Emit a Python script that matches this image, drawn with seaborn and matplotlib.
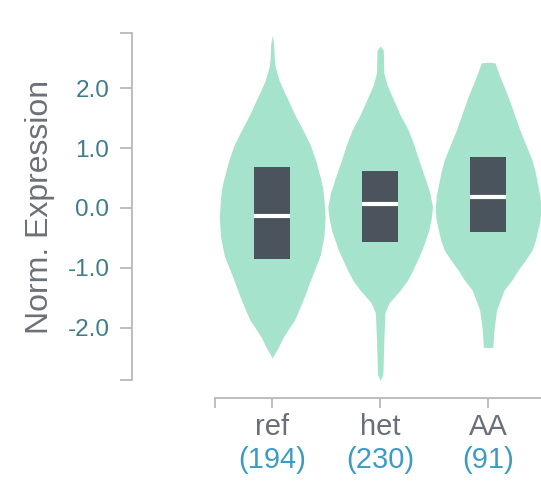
import numpy as np
import matplotlib
matplotlib.use("Agg")
import matplotlib.pyplot as plt
import seaborn as sns

# genotype groups and sample counts
genotypes = ["ref", "het", "AA"]
counts = [194, 230, 91]

# violin outlines: expression level -> relative density
ref_levels = [2.88, 2.72, 2.47, 2.35, 2.13, 1.97, 1.80, 1.55, 1.30, 1.05, 0.80,
              0.47, 0.30, 0.13, -0.15, -0.45, -0.60, -0.78, -0.90, -1.03, -1.28,
              -1.45, -1.58, -1.75, -1.87, -2.00, -2.15, -2.33, -2.50]
ref_density = [0.0, 0.03, 0.04, 0.06, 0.13, 0.21, 0.30, 0.43, 0.58, 0.72, 0.82,
               0.92, 0.96, 0.98, 1.00, 0.98, 0.95, 0.91, 0.86, 0.80, 0.69,
               0.62, 0.56, 0.48, 0.42, 0.32, 0.21, 0.11, 0.0]

het_levels = [2.70, 2.63, 2.25, 2.05, 1.85, 1.55, 1.30, 1.05, 0.80, 0.47, 0.25,
              0.02, -0.15, -0.37, -0.70, -1.03, -1.20, -1.37, -1.58, -1.75,
              -2.20, -2.78, -2.87]
het_density = [0.0, 0.06, 0.07, 0.13, 0.23, 0.38, 0.53, 0.64, 0.73, 0.86, 0.94,
               0.99, 0.97, 0.92, 0.79, 0.62, 0.52, 0.38, 0.17, 0.09,
               0.07, 0.05, 0.0]

aa_levels = [2.43, 2.42, 2.22, 1.85, 1.30, 0.80, 0.60, 0.38, 0.20, -0.03, -0.20,
             -0.37, -0.55, -0.70, -0.85, -1.03, -1.20, -1.37, -1.70, -2.03,
             -2.32, -2.33]
aa_density = [0.0, 0.13, 0.21, 0.38, 0.60, 0.83, 0.89, 0.94, 0.98, 1.00, 0.98,
              0.94, 0.89, 0.83, 0.72, 0.57, 0.45, 0.30, 0.16, 0.11,
              0.09, 0.0]

# box summaries
q1 = [-0.85, -0.57, -0.40]
q3 = [0.68, 0.62, 0.85]
medians = [-0.13, 0.07, 0.18]

profiles = [(ref_levels, ref_density), (het_levels, het_density), (aa_levels, aa_density)]

violin_color = "#a6e3cc"
box_color = "#4b545c"
axis_color = "#b3b3b3"

sns.set_theme(style="white")
plt.rcParams["font.family"] = ["Liberation Sans", "DejaVu Sans"]

fig = plt.figure(figsize=(5.41, 4.84), dpi=100)
ax = fig.add_axes([215 / 541, 1 - 380 / 484, 326 / 541, 347 / 484])

for i, (levels, dens) in enumerate(profiles):
    half = np.array(dens) * 0.49
    ax.fill_betweenx(levels, i - half, i + half, color=violin_color, lw=0, zorder=1)

ax.bar(range(len(genotypes)), np.array(q3) - np.array(q1), bottom=q1,
       width=0.33, color=box_color, linewidth=0, zorder=2)
ax.hlines(medians, np.arange(3) - 0.165, np.arange(3) + 0.165,
          color="white", lw=3, zorder=3)

ylo, yhi = -2.867, 2.917
xlo, xhi = -0.53, 2.49
ax.set_ylim(ylo, yhi)
ax.set_xlim(xlo, xhi)

ax.set_yticks([-2, -1, 0, 1, 2])
ax.set_yticklabels([f"{v:.1f}" for v in [-2, -1, 0, 1, 2]])
ax.set_yticks([ylo, yhi], minor=True)
ax.set_xticks(range(3))
ax.set_xticklabels(genotypes)
ax.set_xticks([xlo], minor=True)

sns.despine(ax=ax)
ax.spines["left"].set_position(("outward", 60))
ax.spines["bottom"].set_position(("outward", 13))
for s in ["left", "bottom"]:
    ax.spines[s].set_color(axis_color)
    ax.spines[s].set_linewidth(1.2)

ax.tick_params(axis="y", which="both", left=True, length=9, width=1.2,
               color=axis_color, pad=7, labelsize=17.5, labelcolor="#3f7b8a")
ax.tick_params(axis="x", which="both", bottom=True, length=7, width=1.2,
               color=axis_color, pad=4, labelsize=21, labelcolor="#6b6e78")

ax.set_ylabel("Norm. Expression", fontsize=23, color="#6b7079", labelpad=9)

for i, n in enumerate(counts):
    ax.text(i, -0.2305, f"({n})", transform=ax.get_xaxis_transform(),
            ha="center", va="center", fontsize=21, color="#3d9cc4")

fig.savefig("out.png", dpi=100)
